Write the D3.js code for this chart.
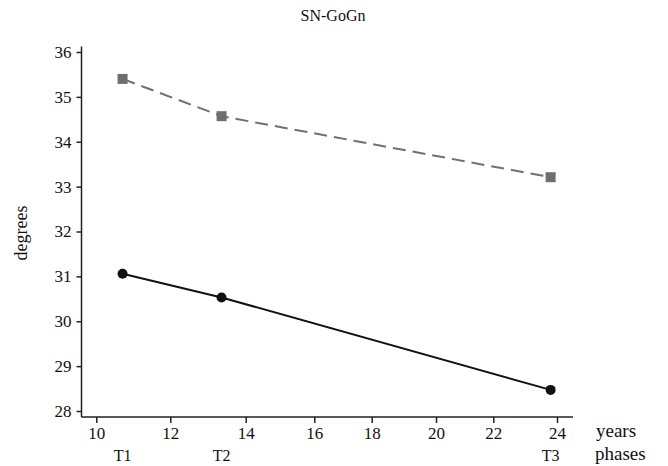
<!DOCTYPE html>
<html>
<head>
<meta charset="utf-8">
<script src="https://cdn.jsdelivr.net/npm/d3@7"></script>
<style>
  html, body { margin: 0; padding: 0; background: #fff; }
  svg { display: block; }
</style>
</head>
<body>
<div id="chart"></div>
<script>
// ---- data ----
const title = "SN-GoGn";
const yLabel = "degrees";
const ages = [10.71, 13.36, 23.8];
const phases = ["T1", "T2", "T3"];
const seriesSolid = [31.06, 30.53, 28.47];   // black circles, solid line
const seriesDashed = [35.40, 34.57, 33.21];  // grey squares, dashed line
const xTicks = [10, 12, 14, 16, 18, 20, 22, 24];
const yTicks = [28, 29, 30, 31, 32, 33, 34, 35, 36];
const xUnitLabel = "years";
const phaseRowLabel = "phases";

// ---- layout ----
const W = 668, H = 466;
const FONT = "'Liberation Serif', 'Times New Roman', serif";
const axisX = 81.5, axisY = 417;
const xTickPx = [96.3, 170.3, 245.7, 314.3, 371.7, 436, 493.3, 557]; // tick spacing as drawn in the reference
const x = d3.scaleLinear().domain(xTicks).range(xTickPx);
const y = d3.scaleLinear().domain([28, 36]).range([411, 52]);

const svg = d3.select("#chart").append("svg").attr("width", W).attr("height", H);

function txt(sel, size) {
  return sel.style("font-family", FONT).style("font-size", size + "px").attr("fill", "#111");
}

// title
txt(svg.append("text").attr("x", 333).attr("y", 21).attr("text-anchor", "middle").text(title), 16);

// y axis
const yAxis = d3.axisLeft(y).tickValues(yTicks).tickSize(5).tickPadding(5).tickFormat(d3.format("d"));
const gy = svg.append("g").attr("transform", `translate(${axisX},0)`).call(yAxis);
gy.attr("font-family", null);
gy.select(".domain").attr("d", `M0,46.5V${axisY}`);
gy.selectAll("line, path").attr("stroke", "#222").attr("stroke-width", 1.5);
txt(gy.selectAll("text"), 17);

// x axis
const xAxis = d3.axisBottom(x).tickValues(xTicks).tickSize(6).tickPadding(4).tickFormat(d3.format("d"));
const gx = svg.append("g").attr("transform", `translate(0,${axisY})`).call(xAxis);
gx.attr("font-family", null);
gx.select(".domain").attr("d", `M${axisX},0H573`);
gx.selectAll("line, path").attr("stroke", "#222").attr("stroke-width", 1.5);
txt(gx.selectAll("text"), 17);

// axis labels
txt(svg.append("text").attr("transform", "translate(27,233) rotate(-90)").attr("text-anchor", "middle").text(yLabel), 18);
txt(svg.append("text").attr("x", 596).attr("y", 437).text(xUnitLabel), 19);
txt(svg.append("text").attr("x", 595).attr("y", 460).text(phaseRowLabel), 19);

// phase labels
txt(svg.append("g").selectAll("text").data(phases).join("text")
  .attr("x", (d, i) => x(ages[i])).attr("y", 461).attr("text-anchor", "middle")
  .text(d => d), 16);

// series
const dashedData = ages.map((a, i) => [a, seriesDashed[i]]);
const solidData = ages.map((a, i) => [a, seriesSolid[i]]);
const line = d3.line().x(d => x(d[0])).y(d => y(d[1]));

svg.append("path").datum(dashedData).attr("d", line)
  .attr("fill", "none").attr("stroke", "#707070").attr("stroke-width", 2)
  .attr("stroke-dasharray", "13,7");
svg.append("g").selectAll("rect").data(dashedData).join("rect")
  .attr("x", d => x(d[0]) - 5).attr("y", d => y(d[1]) - 5)
  .attr("width", 10).attr("height", 10).attr("fill", "#6e6e6e");

svg.append("path").datum(solidData).attr("d", line)
  .attr("fill", "none").attr("stroke", "#111").attr("stroke-width", 2);
svg.append("g").selectAll("circle").data(solidData).join("circle")
  .attr("cx", d => x(d[0])).attr("cy", d => y(d[1])).attr("r", 5).attr("fill", "#111");
</script>
</body>
</html>
